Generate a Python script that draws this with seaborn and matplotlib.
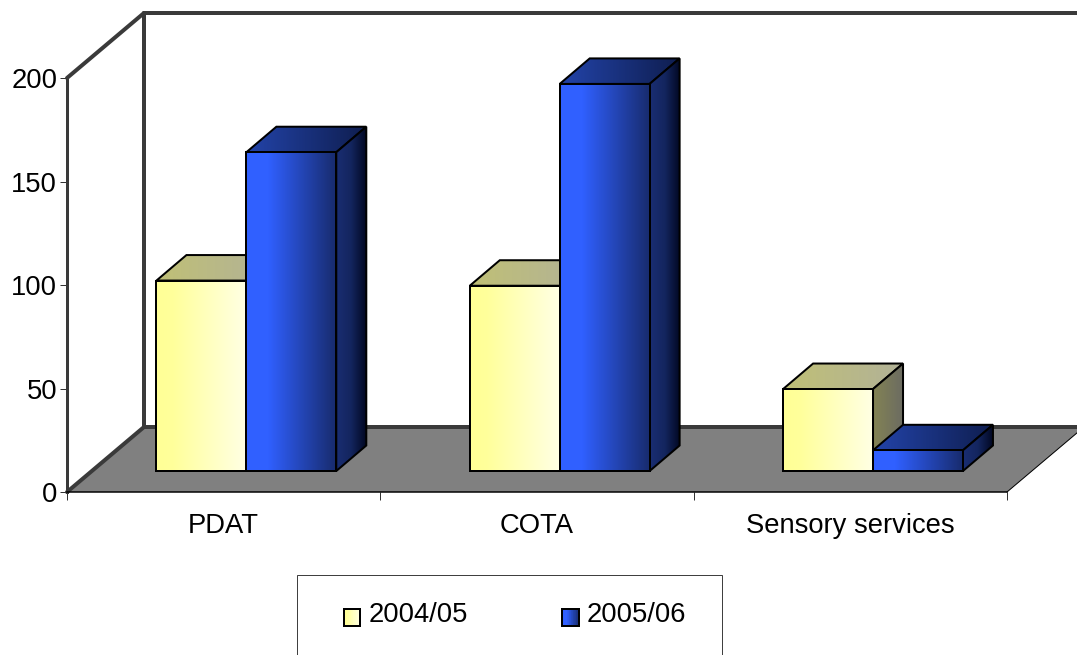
import numpy as np
import pandas as pd
import matplotlib
matplotlib.use("Agg")
import matplotlib.pyplot as plt
from matplotlib.patches import Polygon, Rectangle
from matplotlib.transforms import Affine2D
import seaborn as sns

# Chart values
categories = ["PDAT", "COTA", "Sensory services"]
years = ["2004/05", "2005/06"]
values_2004 = [92, 89.5, 39.6]
values_2005 = [154, 187, 10]
y_ticks = [0, 50, 100, 150, 200]

# Colour ramps for each bar face: (position, rgb)
RAMPS = {
    "2004/05": {
        "front": [(0, (255, 255, 150)), (0.18, (255, 255, 155)), (1, (255, 255, 228))],
        "side": [(0, (132, 132, 84)), (1, (108, 108, 98))],
        "top": [(0, (192, 192, 118)), (1, (178, 178, 152))],
    },
    "2005/06": {
        "front": [(0, (48, 96, 255)), (0.25, (48, 96, 255)), (1, (24, 44, 110))],
        "side": [(0, (26, 46, 115)), (0.5, (20, 38, 95)), (1, (2, 8, 35))],
        "top": [(0, (35, 68, 170)), (1, (15, 30, 80))],
    },
}
WALL = "#3a3a3a"
FLOOR = "#808080"


def px(n):
    """Convert a width in pixels to points at 100 dpi."""
    return n * 0.72


def ramp_image(stops):
    pos = [s[0] for s in stops]
    rgb = np.array([s[1] for s in stops], dtype=float)
    t = np.linspace(0, 1, 256)
    row = np.stack([np.interp(t, pos, rgb[:, i]) for i in range(3)], axis=1)
    return row[np.newaxis, :, :].astype(np.uint8)


class GradientSwatch:
    """Legend key filled with a horizontal colour ramp."""

    def __init__(self, stops):
        self.stops = stops

    def legend_artist(self, legend, orig_handle, fontsize, handlebox):
        img = ramp_image(self.stops)[0]
        w, h = handlebox.width, handlebox.height
        size = 12.0
        x0 = w - size
        y0 = (h - size) / 2 - 3.3
        n = 24
        for i in range(n):
            handlebox.add_artist(Rectangle(
                (x0 + size * i / n, y0), size / n + 0.3, size,
                facecolor=img[int(255 * i / (n - 1))] / 255, edgecolor="none"))
        outline = Rectangle((x0, y0), size, size, facecolor="none",
                            edgecolor="black", linewidth=px(2))
        handlebox.add_artist(outline)
        return outline


sns.set_theme(style="white", font="Liberation Sans")
fig = plt.figure(figsize=(10.77, 6.55), dpi=100, facecolor="white")
ax = fig.add_axes([67 / 1077, 1 - 492 / 655, 940 / 1077, 414 / 655])
ax.patch.set_visible(False)

df = pd.DataFrame({
    "category": categories * 2,
    "year": [years[0]] * 3 + [years[1]] * 3,
    "value": values_2004 + values_2005,
})
palette = {y: np.array(RAMPS[y]["front"][0][1]) / 255 for y in years}
sns.barplot(data=df, x="category", y="value", hue="year", palette=palette,
            saturation=1, width=0.574, edgecolor="black", linewidth=px(2),
            ax=ax, zorder=5)
handles, labels = ax.get_legend_handles_labels()

ax.set_xlim(-0.5, 2.5)
ax.set_ylim(0, 200)
ax.set_xlabel("")
ax.set_ylabel("")

# Pixel scale of the data axes, used to express the oblique depth
x_scale = 940 / 3
y_scale = 414 / 200
wall_dx, wall_dy = 77 / x_scale, 65 / y_scale
bar_dx, bar_dy = 30 / x_scale, 25.5 / y_scale

# Bars stand part-way back on the floor
bar_plane = ax.transData + Affine2D().translate(22.7, 21)

# Floor and back wall
ax.add_patch(Polygon([(-0.5, 0), (2.5, 0), (2.5 + wall_dx, wall_dy), (-0.5 + wall_dx, wall_dy)],
                     closed=True, facecolor=FLOOR, edgecolor="none", zorder=1, clip_on=False))
ax.plot([2.5, 2.5 + wall_dx], [0, wall_dy], color="black", lw=px(1), zorder=1.1, clip_on=False)
wall_x = -0.5 + wall_dx
ax.plot([-0.5, wall_x], [0, wall_dy], color=WALL, lw=px(4), zorder=2,
        clip_on=False, solid_capstyle="round")
ax.plot([-0.5, wall_x], [200, 200 + wall_dy], color=WALL, lw=px(4), zorder=2,
        clip_on=False, solid_capstyle="round")
ax.plot([wall_x, wall_x], [wall_dy, 200 + wall_dy], color=WALL, lw=px(4), zorder=2, clip_on=False)
ax.plot([wall_x, 2.5 + wall_dx], [wall_dy, wall_dy], color=WALL, lw=px(4), zorder=2, clip_on=False)
ax.plot([wall_x, 2.5 + wall_dx], [200 + wall_dy, 200 + wall_dy], color=WALL, lw=px(4),
        zorder=2, clip_on=False)


def shaded_face(corners, stops, z):
    """Fill a polygon in the bar plane with a left-to-right ramp and outline it."""
    corners = np.array(corners)
    x0, x1 = corners[:, 0].min(), corners[:, 0].max()
    y0, y1 = corners[:, 1].min(), corners[:, 1].max()
    outline = Polygon(corners, closed=True, facecolor="none", edgecolor="black",
                      linewidth=px(2), joinstyle="miter", transform=bar_plane,
                      zorder=z + 0.05, clip_on=False)
    ax.add_patch(outline)
    clip = Polygon(corners, closed=True, transform=bar_plane)
    im = ax.imshow(ramp_image(stops), extent=(x0, x1, y0, y1), aspect="auto",
                   interpolation="bilinear", transform=bar_plane, zorder=z, origin="lower")
    # Faces may rise above the axes, so only the polygon limits them
    im.set_clip_box(fig.bbox)
    im.set_clip_path(clip)


# Turn each flat bar into a box with shaded front, side and top faces
for group, year in zip(ax.containers, years):
    offset = 0 if year == years[0] else 1
    for i, bar in enumerate(group):
        z = 5 + i * 3 + offset
        xl, xr = bar.get_x(), bar.get_x() + bar.get_width()
        h = bar.get_height()
        bar.set_transform(bar_plane)
        bar.set_clip_on(False)
        bar.set_zorder(z)
        ramps = RAMPS[year]
        shaded_face([(xl, h), (xr, h), (xr + bar_dx, h + bar_dy), (xl + bar_dx, h + bar_dy)],
                    ramps["top"], z + 0.1)
        shaded_face([(xr, 0), (xr + bar_dx, bar_dy), (xr + bar_dx, h + bar_dy), (xr, h)],
                    ramps["side"], z + 0.2)
        shaded_face([(xl, 0), (xr, 0), (xr, h), (xl, h)], ramps["front"], z + 0.3)

ax.set_xlim(-0.5, 2.5)
ax.set_ylim(0, 200)

# Axes furniture
for side in ("top", "right"):
    ax.spines[side].set_visible(False)
ax.spines["left"].set_color(WALL)
ax.spines["left"].set_linewidth(px(3))
ax.spines["left"].set_zorder(3)
ax.spines["bottom"].set_color("black")
ax.spines["bottom"].set_linewidth(px(1.5))
ax.spines["bottom"].set_zorder(3)

ax.set_yticks(y_ticks)
ax.set_xticks(range(len(categories)))
ax.set_xticklabels(categories)
ax.set_xticks([-0.5, 0.5, 1.5, 2.5], minor=True)
ax.tick_params(axis="x", which="major", length=0, pad=15, labelsize=19.7, labelcolor="black")
ax.tick_params(axis="x", which="minor", bottom=True, length=px(8), width=px(1), color="#333333")
ax.tick_params(axis="y", which="major", left=True, length=px(7), width=px(1), color="#333333",
               pad=2, labelsize=19.7, labelcolor="black")

# Legend keys and labels, with its box running off the bottom of the figure
ax.legend(handles, labels,
          handler_map={handles[0]: GradientSwatch(RAMPS[years[0]]["front"]),
                       handles[1]: GradientSwatch(RAMPS[years[1]]["front"])},
          loc="upper left", bbox_to_anchor=(333 / 1077, 1 - 602.5 / 655),
          bbox_transform=fig.transFigure, borderaxespad=0, borderpad=0, ncol=2,
          prop={"family": "Liberation Sans", "size": 19.7},
          handlelength=1.0, handleheight=0.7, handletextpad=0.29,
          columnspacing=3.07, frameon=False, labelcolor="black")
ax.get_legend().set_zorder(20)
fig.add_artist(Rectangle((297 / 1077, 1 - 680 / 655), 425 / 1077, 105.5 / 655,
                         transform=fig.transFigure, facecolor="none",
                         edgecolor="#404040", linewidth=px(1)))

fig.savefig("out.png", dpi=100, facecolor="white")
